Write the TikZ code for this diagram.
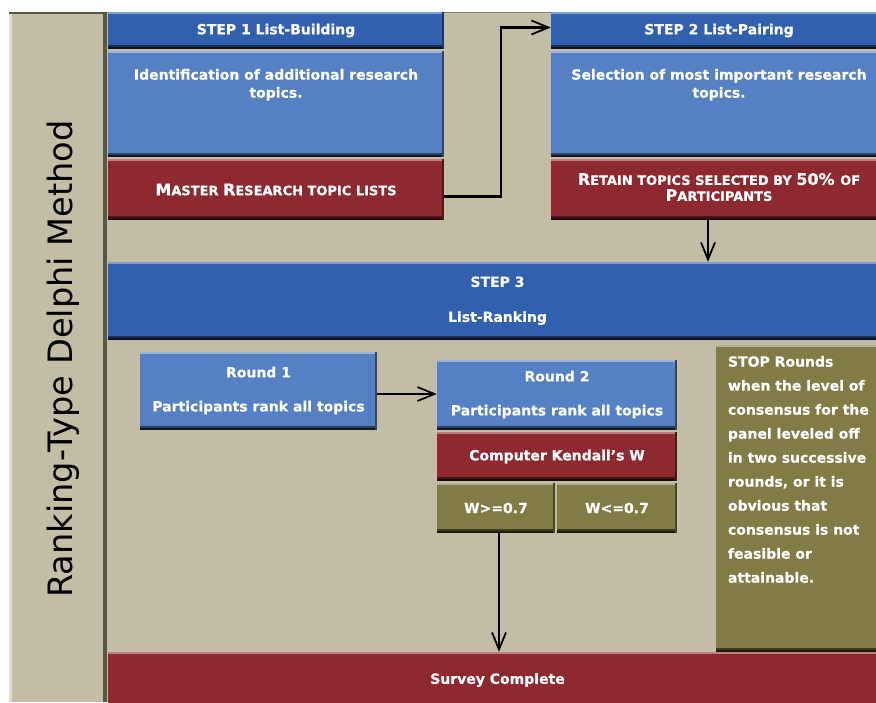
\documentclass[tikz,border=0pt]{standalone}
\usepackage{fontspec}
\setmainfont{DejaVu Sans}[BoldFeatures={FakeBold=0.6}]
\usetikzlibrary{arrows.meta,calc}
\definecolor{ctan}{HTML}{C3BDA5}
\definecolor{ctanlight}{HTML}{E2DECF}
\definecolor{ctandark}{HTML}{5A5644}
\definecolor{cdark}{HTML}{3160AE}
\definecolor{clight}{HTML}{5580C4}
\definecolor{cred}{HTML}{8E2A2F}
\definecolor{colive}{HTML}{837B45}
\newcommand\scbig{\fontsize{16}{17}\selectfont}
\newcommand\scsm{\fontsize{13}{17}\selectfont}
\tikzset{
  box/.style={rectangle, inner sep=0pt, fill=#1, text=white,
    font=\bfseries\fontsize{14}{17}\selectfont, align=center,
    path picture={
      \fill[#1!60!white] (path picture bounding box.north west) rectangle ([yshift=-2pt]path picture bounding box.north east);
      \fill[#1!50!black] ([yshift=4pt]path picture bounding box.south west) rectangle (path picture bounding box.south east);
      \fill[#1!20!black] ([yshift=2pt]path picture bounding box.south west) rectangle (path picture bounding box.south east);
      \fill[#1!55!black] ([xshift=-2pt]path picture bounding box.south east) rectangle (path picture bounding box.north east);
    }},
  txt/.style={inner sep=0pt, text=white, font=\bfseries\fontsize{14}{18}\selectfont, align=center},
  arr/.style={draw=black, line width=2.2pt, -{Straight Barb[length=17pt,width=14pt,line width=1.8pt]}},
}
\begin{document}
\begin{tikzpicture}[x=1pt,y=-1pt]
\useasboundingbox (0,0) rectangle (876,702);
\fill[white] (0,0) rectangle (876,702);
% left panel
\fill[ctan] (9,12) rectangle (107,702);
\fill[ctanlight] (9,12) rectangle (12,702);
\fill[ctandark] (9,12) rectangle (107,14);
\fill[ctandark] (103,12) rectangle (107,702);
% main area
\fill[ctan] (107,12) rectangle (876,702);
\fill[ctan!70!black] (107,12) rectangle (876,13);
\node[rotate=90, font=\fontsize{33.6}{40}\selectfont] (title) at (63,359) {Ranking-Type Delphi Method};
% step 1
\node[box=cdark, minimum width=336pt, minimum height=37pt] (s1h) at (276,30.5) {\raisebox{-1.5pt}{STEP 1 List-Building}};
\node[box=clight, minimum width=336pt, minimum height=106pt] (s1b) at (276,104) {};
\node[txt, anchor=north] (s1bt) at ([yshift=-18pt]s1b.north) {Identification of additional research\\topics.};
\node[box=cred, minimum width=336pt, minimum height=61pt] (s1r) at (276,189.5) {\raisebox{-1.5pt}{\scbig M\scsm ASTER \scbig R\scsm ESEARCH TOPIC LISTS}};
% step 2
\node[box=cdark, minimum width=336pt, minimum height=37pt] (s2h) at (719,30.5) {\raisebox{-1.5pt}{STEP 2 List-Pairing}};
\node[box=clight, minimum width=336pt, minimum height=106pt] (s2b) at (719,104) {};
\node[txt, anchor=north] (s2bt) at ([yshift=-18pt]s2b.north) {Selection of most important research\\topics.};
\node[box=cred, minimum width=336pt, minimum height=61pt] (s2r) at (719,189.5) {\raisebox{-1.5pt}{\begin{tabular}{@{}c@{}}\scbig R\scsm ETAIN TOPICS SELECTED BY \scbig 50\% \scsm OF\\[-1pt]\scbig P\scsm ARTICIPANTS\end{tabular}}};
% step 3
\node[box=cdark, minimum width=779pt, minimum height=78pt] (s3) at (497.5,301) {\raisebox{-1.5pt}{\begin{tabular}{@{}c@{}}STEP 3\\[18pt]List-Ranking\end{tabular}}};
% rounds
\node[box=clight, minimum width=237pt, minimum height=78pt] (r1) at (258.5,391) {\raisebox{-1.5pt}{\begin{tabular}{@{}c@{}}Round 1\\[17pt]Participants rank all topics\end{tabular}}};
\node[box=clight, minimum width=240pt, minimum height=70pt] (r2) at (557,395) {\raisebox{-1.5pt}{\begin{tabular}{@{}c@{}}Round 2\\[17pt]Participants rank all topics\end{tabular}}};
\node[box=cred, minimum width=240pt, minimum height=49pt] (kw) at (557,456.5) {\raisebox{-1pt}{Computer Kendall’s W}};
\node[box=colive, minimum width=118pt, minimum height=50pt] (wge) at (496,508) {\raisebox{-1pt}{W>=0.7}};
\node[box=colive, minimum width=120pt, minimum height=50pt] (wle) at (617,508) {\raisebox{-1pt}{W<=0.7}};
% stop
\node[box=colive, minimum width=171pt, minimum height=307pt] (stop) at (801.5,498.5) {};
\node[txt, align=left, anchor=north west, font=\bfseries\fontsize{14}{24}\selectfont] (stopt) at ([xshift=12pt,yshift=-11pt]stop.north west) {STOP Rounds\\when the level of\\consensus for the\\panel leveled off\\in two successive\\rounds, or it is\\obvious that\\consensus is not\\feasible or\\attainable.};
% survey
\node[box=cred, minimum width=779pt, minimum height=56pt] (survey) at (497.5,680) {Survey Complete};
% arrows
\draw[arr] ([yshift=-7pt]s1r.east) -- ++(57,0) |- ([yshift=3pt]s2h.west);
\draw[arr] ([xshift=-11pt]s2r.south) -- ([xshift=-11pt]s2r.south |- s3.north);
\draw[arr] ([yshift=-3pt]r1.east) -- ([yshift=-3pt]r1.east -| r2.west);
\draw[arr] ([xshift=3pt]wge.south) -- ([xshift=3pt]wge.south |- survey.north);
\end{tikzpicture}
\end{document}
